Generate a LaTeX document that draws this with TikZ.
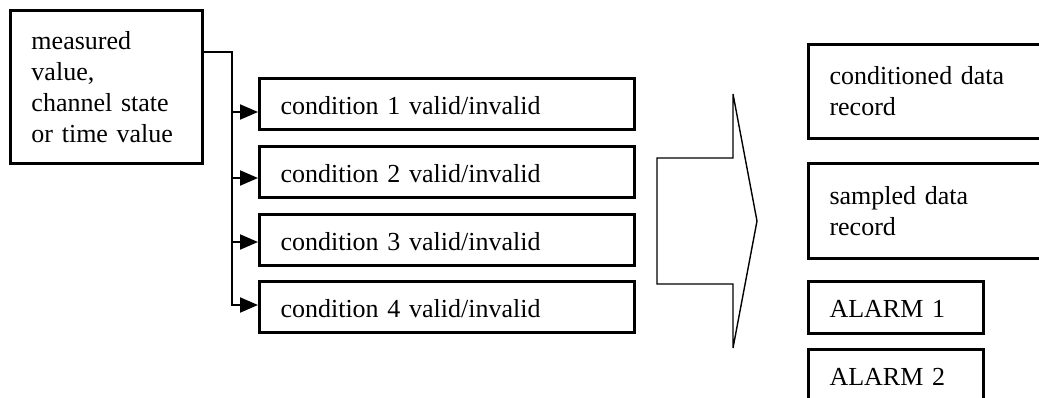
\documentclass[tikz,border=0pt]{standalone}
\usepackage{fontspec}
\setmainfont{Liberation Serif}
\usetikzlibrary{arrows.meta}

\begin{document}
\begin{tikzpicture}[x=0.5pt, y=-0.5pt,
  box/.style={draw, line width=1.5pt, anchor=north west, align=left,
    inner xsep=10.5pt, inner ysep=0pt, font=\fontsize{13}{15.5}\selectfont},
  onebox/.style={box, text height=12pt, text depth=2pt},
  wire/.style={line width=1pt},
  feed/.style={wire, -{Triangle[length=9pt, width=7.5pt]}}]
  % Page frame
  \clip (0,0) rectangle (1039,397);

  % Input box
  \node[box, text width=75pt, minimum height=76.5pt] (src) at (9,9)
    {measured\\value,\\channel state\\or time value};

  % Condition boxes
  \foreach \n/\y in {1/77, 2/145, 3/213, 4/280}
    \node[onebox, text width=166.5pt, minimum height=25.5pt] (cond\n) at (258,\y)
      {condition \n\ valid/invalid};

  % Bus from the input to the conditions
  \coordinate (tap) at ([yshift=-21.5pt]src.north east);
  \coordinate (bus) at (232,52);
  \draw[feed] (tap) -- (bus) |- (cond4.west |- 0,305);
  \foreach \n/\y in {1/112, 2/178, 3/242}
    \draw[feed] (bus |- 0,\y) -- (cond\n.west |- 0,\y);

  % Big arrow
  \draw[line width=0.7pt] (657,158) -- (733,158) -- (733,94) -- (757,221)
    -- (733,348) -- (733,284) -- (657,284) -- cycle;

  % Output boxes
  \node[box, text width=105.5pt, minimum height=47pt] (cdr) at (807,43)
    {conditioned data\\record};
  \node[box, text width=105.5pt, minimum height=47.5pt] (sdr) at (807,162)
    {sampled data\\record};
  \node[onebox, text width=66.5pt, minimum height=26pt] (alarm1) at (807,280) {ALARM 1};
  \node[onebox, text width=66.5pt, minimum height=26pt] (alarm2) at (807,348) {ALARM 2};
\end{tikzpicture}
\end{document}
